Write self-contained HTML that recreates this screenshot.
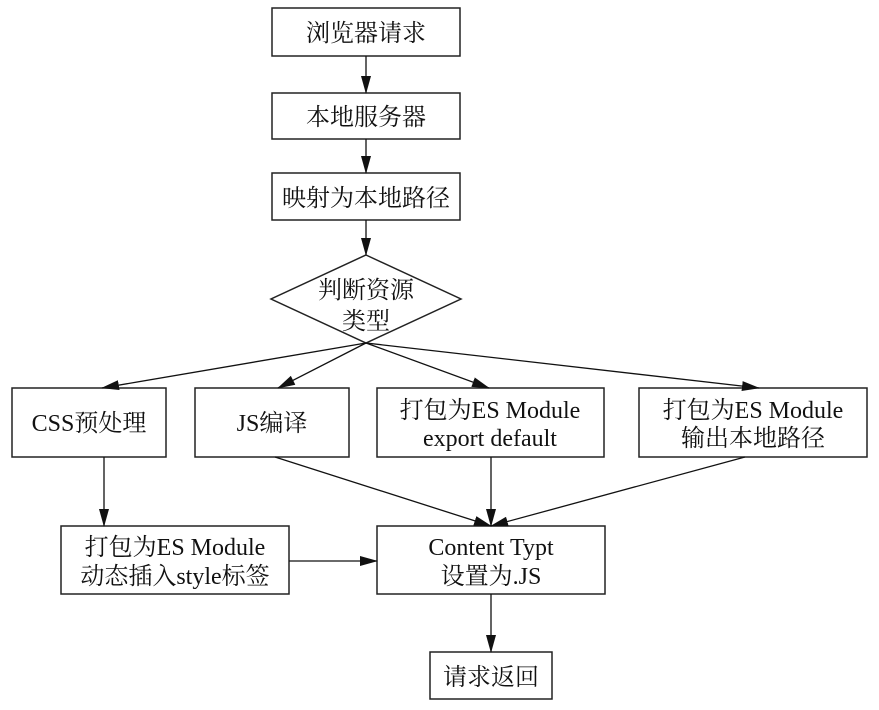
<!DOCTYPE html>
<html><head><meta charset="utf-8"><style>
html,body{margin:0;padding:0;background:#fff;}
svg text{font-family:"Liberation Serif","Noto Serif CJK SC",serif;font-size:24px;fill:#111;}
</style></head><body>
<svg width="879" height="705" viewBox="0 0 879 705" xmlns="http://www.w3.org/2000/svg">
<defs><marker id="a" markerWidth="18" markerHeight="10" refX="17" refY="5" orient="auto" markerUnits="userSpaceOnUse"><path d="M0,0 L18,5 L0,10 z" fill="#111"/></marker></defs>
<g fill="none" stroke="#222" stroke-width="1.5">
<rect x="272" y="8" width="188" height="48"/>
<rect x="272" y="93" width="188" height="46"/>
<rect x="272" y="173" width="188" height="47"/>
<polygon points="366,255 461,299 366,343 271,299"/>
<rect x="12" y="388" width="154" height="69"/>
<rect x="195" y="388" width="154" height="69"/>
<rect x="377" y="388" width="227" height="69"/>
<rect x="639" y="388" width="228" height="69"/>
<rect x="61" y="526" width="228" height="68"/>
<rect x="377" y="526" width="228" height="68"/>
<rect x="430" y="652" width="122" height="47"/>
</g>
<g stroke="#111" stroke-width="1.3" marker-end="url(#a)">
<line x1="366" y1="56" x2="366" y2="93"/>
<line x1="366" y1="139" x2="366" y2="173"/>
<line x1="366" y1="220" x2="366" y2="255"/>
<line x1="366" y1="343" x2="102" y2="388"/>
<line x1="366" y1="343" x2="278" y2="388"/>
<line x1="366" y1="343" x2="489" y2="388"/>
<line x1="366" y1="343" x2="759" y2="388"/>
<line x1="104" y1="457" x2="104" y2="526"/>
<line x1="275" y1="457" x2="491" y2="526"/>
<line x1="491" y1="457" x2="491" y2="526"/>
<line x1="745" y1="457" x2="491" y2="526"/>
<line x1="289" y1="561" x2="377" y2="561"/>
<line x1="491" y1="594" x2="491" y2="652"/>
</g>
<g text-anchor="middle">
<text x="366" y="41">浏览器请求</text>
<text x="366" y="125">本地服务器</text>
<text x="366" y="206">映射为本地路径</text>
<text x="366" y="298">判断资源</text>
<text x="366" y="329">类型</text>
<text x="89" y="431">CSS预处理</text>
<text x="272" y="431">JS编译</text>
<text x="490" y="418">打包为ES Module</text>
<text x="490" y="446">export default</text>
<text x="753" y="418">打包为ES Module</text>
<text x="753" y="446">输出本地路径</text>
<text x="175" y="555">打包为ES Module</text>
<text x="175" y="584">动态插入style标签</text>
<text x="491" y="555">Content Typt</text>
<text x="491" y="584">设置为.JS</text>
<text x="491" y="685">请求返回</text>
</g>
</svg>
</body></html>
